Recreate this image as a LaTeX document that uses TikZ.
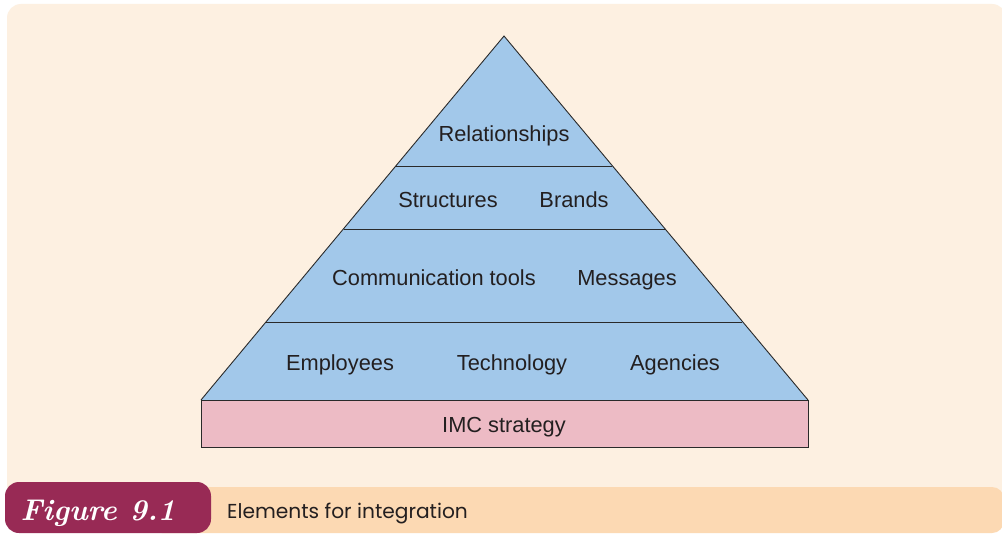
\documentclass[tikz,border=0pt]{standalone}
\usepackage{fontspec}
\setmainfont{Liberation Sans}
\newfontfamily\capfont{Poppins}
\newfontfamily\figfont{Latin Modern Roman}
\definecolor{bgc}{HTML}{FDF0E1}
\definecolor{barc}{HTML}{FCD9B3}
\definecolor{tabc}{HTML}{982A55}
\definecolor{bluec}{HTML}{A2C8EA}
\definecolor{pinkc}{HTML}{EDBBC5}
\definecolor{txtc}{HTML}{231F20}
\definecolor{linec}{HTML}{2A2A2A}
\tikzset{
  lab/.style={font=\fontsize{21.8}{26}\selectfont, text=txtc, inner sep=0pt, anchor=base},
  edge/.style={draw=linec, line width=0.9pt},
}
\begin{document}
\begin{tikzpicture}[x=1pt,y=-1pt]
\clip (0,0) rectangle (1002,535);
\fill[white] (0,0) rectangle (1002,535);
% background panel
\fill[bgc, rounded corners=14pt] (7,4) rectangle (1006,515);
% caption bar
\fill[barc, rounded corners=12pt] (150,487) rectangle (1004,533);
% tab
\fill[tabc, rounded corners=14pt] (5,482) rectangle (211,533);
\node[font=\figfont\itshape\bfseries\fontsize{30}{34}\selectfont, text=white, inner sep=0pt, anchor=base] (fig) at (98,520) {Figure 9.1};
\node[font=\capfont\fontsize{20.2}{24}\selectfont, text=txtc, anchor=base west, inner sep=0pt] (cap) at (227,518) {Elements for integration};
% pyramid
\coordinate (apex) at (504,36);
\coordinate (bl) at (201,400);
\coordinate (br) at (808,400);
\fill[bluec] (apex) -- (bl) -- (br) -- cycle;
\draw[edge] (bl) -- (apex) -- (br);
\coordinate (l1a) at (396,166); \coordinate (l1b) at (612,166);
\coordinate (l2a) at (344,229); \coordinate (l2b) at (665,229);
\coordinate (l3a) at (266,322); \coordinate (l3b) at (742,322);
\draw[edge] (l1a) -- (l1b);
\draw[edge] (l2a) -- (l2b);
\draw[edge] (l3a) -- (l3b);
% base
\draw[edge, fill=pinkc] (201,400) rectangle (808,447);
% labels (base line positions)
\node[lab] (rel) at (504,141) {Relationships};
\node[lab] (str) at (448,207) {Structures};
\node[lab] (bra) at (574,207) {Brands};
\node[lab] (com) at (434,285) {Communication tools};
\node[lab] (mes) at (627,285) {Messages};
\node[lab] (emp) at (340,370) {Employees};
\node[lab] (tec) at (512,370) {Technology};
\node[lab] (age) at (675,370) {Agencies};
\node[lab] (imc) at (504,432) {IMC strategy};
\end{tikzpicture}
\end{document}
